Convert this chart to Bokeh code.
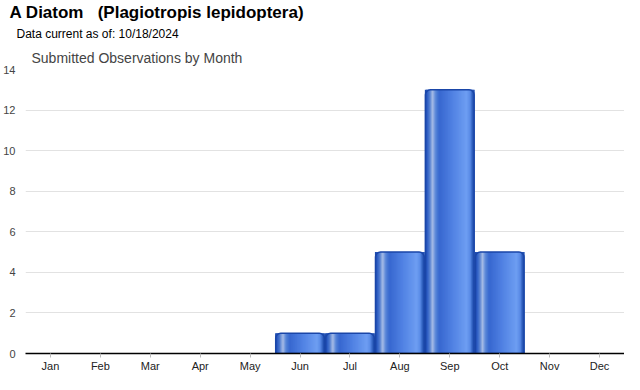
from bokeh.plotting import figure
from bokeh.models import ColumnDataSource, FixedTicker, Range1d, Title
from bokeh.embed import file_html
from bokeh.resources import INLINE

# ---- data ----
months = ["Jan", "Feb", "Mar", "Apr", "May", "Jun", "Jul", "Aug", "Sep", "Oct", "Nov", "Dec"]
counts = [0, 0, 0, 0, 0, 1, 1, 5, 13, 5, 0, 0]
y_ticks = [0, 2, 4, 6, 8, 10, 12, 14]

title_text = "A Diatom\u00a0\u00a0\u00a0(Plagiotropis lepidoptera)"
subtitle_text = "Data current as of: 10/18/2024"
chart_title = "Submitted Observations by Month"

# ---- style: horizontal gradient across each bar ----
grad = [(0.00, (26, 70, 168)), (0.05, (44, 92, 196)), (0.10, (84, 128, 208)),
        (0.16, (168, 188, 230)), (0.22, (88, 134, 216)), (0.30, (55, 103, 207)),
        (0.55, (79, 128, 226)), (0.86, (110, 158, 242)), (0.93, (88, 138, 230)),
        (1.00, (29, 76, 172))]

def grad_color(t):
    for (t0, c0), (t1, c1) in zip(grad[:-1], grad[1:]):
        if t0 <= t <= t1:
            f = (t - t0) / (t1 - t0) if t1 > t0 else 0
            c = [round(a + (b - a) * f) for a, b in zip(c0, c1)]
            return "#%02x%02x%02x" % tuple(c)
    return "#%02x%02x%02x" % grad[-1][1]

bw = 0.975
N = 40
sx, stop, scol = [], [], []
for i, v in enumerate(counts):
    if v <= 0:
        continue
    for k in range(N):
        t = (k + 0.5) / N
        sx.append(i - bw / 2 + bw * t)
        stop.append(v)
        scol.append(grad_color(t))
strips = ColumnDataSource(dict(x=sx, top=stop, color=scol))

FH = 374
p = figure(width=624, height=FH, output_backend="svg", toolbar_location=None,
           x_range=Range1d(-0.5, len(months) - 0.5), y_range=Range1d(0, 14),
           min_border_left=12, min_border_right=0, min_border_top=0, min_border_bottom=0,
           min_border=0)
p.outline_line_color = None

p.vbar(x="x", top="top", width=bw / N * 2.0, bottom=0, source=strips,
       fill_color="color", line_color=None)
nz = ColumnDataSource(dict(x=[i for i, v in enumerate(counts) if v > 0],
                           top=[v for v in counts if v > 0]))
p.vbar(x="x", top="top", width=bw, bottom=0, source=nz, fill_color=None,
       line_color="#1a46a8", line_width=1.5, border_radius=(5, 5, 0, 0))

p.xaxis.axis_label = None
p.xaxis.ticker = FixedTicker(ticks=list(range(len(months))))
p.xaxis.major_label_overrides = {i: m for i, m in enumerate(months)}
p.xaxis.axis_line_color = "#000000"
p.xaxis.axis_line_width = 1.5
p.xaxis.major_tick_in = 0
p.xaxis.major_tick_out = 4
p.xaxis.major_tick_line_color = "#bbbbbb"
p.xaxis.minor_tick_line_color = None
p.xaxis.minor_tick_out = 0
p.xaxis.major_label_text_font = "Liberation Sans"
p.xaxis.major_label_text_font_size = "11px"
p.xaxis.major_label_text_line_height = 1.0
p.xaxis.major_label_text_color = "#222222"
p.xaxis.major_label_standoff = 2

p.yaxis.axis_label = None
p.yaxis.ticker = FixedTicker(ticks=y_ticks)
p.yaxis.axis_line_color = None
p.yaxis.major_tick_line_color = None
p.yaxis.minor_tick_line_color = None
p.yaxis.major_label_text_font = "Liberation Sans"
p.yaxis.major_label_text_font_size = "11px"
p.yaxis.major_label_text_color = "#444444"
p.yaxis.major_label_standoff = 4

p.xgrid.grid_line_color = None
p.ygrid.grid_line_color = "#e2e2e2"
p.ygrid.grid_line_width = 1

# titles stack outward: first added is nearest the frame
p.add_layout(Title(text=chart_title, align="left", offset=6, standoff=8,
                   text_font="Liberation Sans", text_font_size="14px",
                   text_font_style="normal", text_color="#444444"), "above")
p.add_layout(Title(text=subtitle_text, align="left", offset=-9, standoff=6,
                   text_font="Liberation Sans", text_font_size="12px",
                   text_font_style="normal", text_color="#000000"), "above")
p.add_layout(Title(text=title_text, align="left", offset=-16, standoff=0,
                   text_font="Liberation Sans", text_font_size="17px",
                   text_font_style="bold", text_color="#000000"), "above")

open("out.html", "w").write(file_html(p, INLINE))
